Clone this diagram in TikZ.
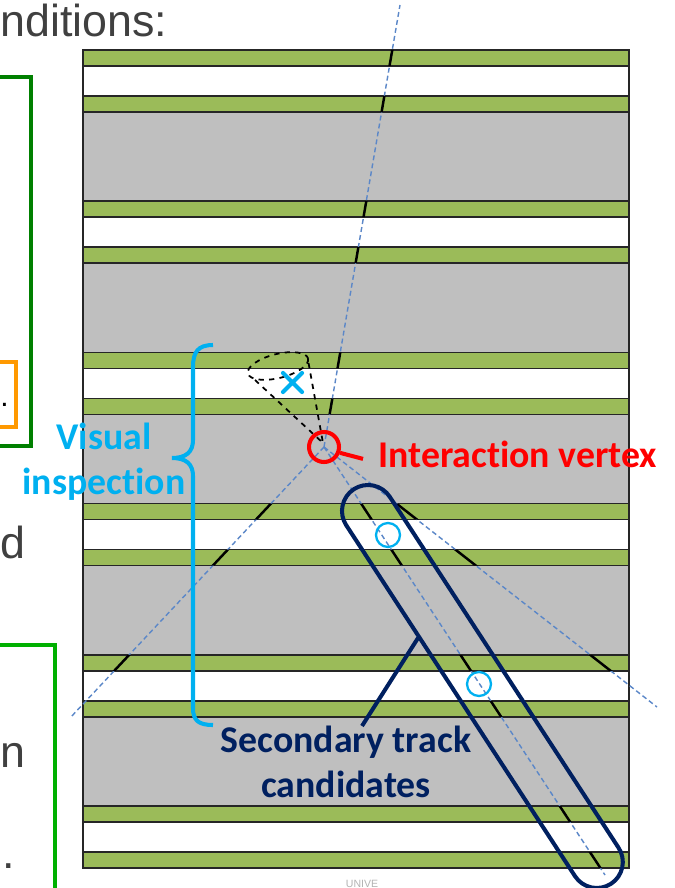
\documentclass[tikz,border=0pt]{standalone}
\usepackage{fontspec}
\setmainfont{Liberation Sans}
\newfontfamily\labelfont[Ligatures=NoCommon]{Carlito}
\usetikzlibrary{calc}

\begin{document}
\begin{tikzpicture}[x=0.02cm, y=-0.02cm,
  band/.style={draw=black!85, line width=0.8pt},
  track/.style={trackblue, line width=0.8pt, dash pattern=on 2.8pt off 1.8pt},
  hit/.style={black, line width=1.4pt},
  hitring/.style={circle, draw=skyblue, line width=1.3pt, minimum size=0.48cm, inner sep=0pt},
  slidetext/.style={font=\fontsize{25.5}{30}\selectfont, text=slidegray, inner sep=0pt},
  callout/.style={font=\labelfont\bfseries\fontsize{21.5}{25.6}\selectfont, inner sep=0pt, align=center}]
  % Define colors
  \definecolor{layergreen}{RGB}{155,187,89}
  \definecolor{layergray}{RGB}{191,191,191}
  \definecolor{trackblue}{RGB}{91,135,200}
  \definecolor{navy}{RGB}{0,32,96}
  \definecolor{skyblue}{RGB}{0,176,240}
  \definecolor{boxgreen}{RGB}{0,128,0}
  \definecolor{boxlime}{RGB}{0,176,0}
  \definecolor{boxorange}{RGB}{255,153,0}
  \definecolor{slidegray}{RGB}{64,64,64}

  \useasboundingbox (0,0) rectangle (675,888);

  % Slide text and boxes on the left
  \node[slidetext, anchor=base west] (cond) at (0,37) {nditions:};
  \draw[boxgreen, line width=2.8pt] (-20,77) rectangle (31,446);
  \draw[boxorange, line width=2.3pt] (-20,362) rectangle (16,427);
  \node[font=\fontsize{17}{20}\selectfont, anchor=base west, inner sep=0pt] (stop) at (0,406) {.};
  \node[slidetext, anchor=base west] (fragd) at (0,558) {d};
  \draw[boxlime, line width=2.8pt] (-20,645) rectangle (55,900);
  \node[slidetext, anchor=base west] (fragn) at (0,767) {n};
  \node[slidetext, anchor=base west] (fragt) at (2,868) {.};

  % Detector layers
  \foreach \i in {0,...,5} {
    \pgfmathsetmacro{\ytop}{50+151.2*\i}
    \draw[band, fill=layergreen] (83,\ytop) rectangle (629,{\ytop+16});
    \draw[band, fill=white] (83,{\ytop+16}) rectangle (629,{\ytop+46});
    \draw[band, fill=layergreen] (83,{\ytop+46}) rectangle (629,{\ytop+62});
    \ifnum\i<5
      \draw[band, fill=layergray] (83,{\ytop+62}) rectangle (629,{\ytop+151.2});
    \fi
  }

  % Tracks from the vertex
  \coordinate (vertex) at (324,447);
  \coordinate (upEnd) at (400,5);
  \coordinate (leftEnd) at (70,718);
  \coordinate (rightEnd) at (657,707);
  \coordinate (candEnd) at (605,875);
  \foreach \e in {upEnd,leftEnd,rightEnd,candEnd}
    \draw[track] (vertex) -- (\e);

  % Hits in the green layers
  \begin{scope}
    \clip \foreach \i in {0,...,5} {
      (83,{50+151.2*\i}) rectangle (629,{66+151.2*\i})
      (83,{96+151.2*\i}) rectangle (629,{112+151.2*\i})
    };
    \draw[hit] (vertex) -- (upEnd);
    \draw[hit] (vertex) -- ($(vertex)!0.89!(leftEnd)$);
    \draw[hit] (vertex) -- (rightEnd);
    \draw[hit] (vertex) -- (candEnd);
  \end{scope}

  % Rings on the candidate track
  \node[hitring] (ringA) at (388,535) {};
  \node[hitring] (ringB) at (479,684) {};

  % Envelope around the candidate track
  \begin{scope}[shift={(368,511)}, rotate=-56.9]
    \draw[navy, line width=2.3pt, rounded corners=0.52cm] (-26,-26) rectangle (445,26);
  \end{scope}

  % Dashed search cone
  \draw[black, dashed, line width=1pt, rotate around={14:(278,366)}] (278,366) ellipse[x radius=31, y radius=12];
  \draw[black, dashed, line width=1pt] (255,380) -- (323,443) -- (308,360);

  % Cross mark
  \draw[skyblue, line width=2.4pt, line cap=round] (283,373) -- (302,392) (283,392) -- (302,373);

  % Vertex ring and label
  \node[circle, draw=red, line width=2.3pt, minimum size=0.6cm, inner sep=0pt] (vtxring) at (vertex) {};
  \node[callout, text=red, anchor=base west] (vtxlabel) at (378,467) {Interaction vertex};
  \draw[red, line width=2.3pt] (vtxring.-20) -- ($(vtxlabel.west)+(-15,5)$);

  % Candidate label and pointer
  \node[callout, text=navy, anchor=north] (candlabel) at (346,726) {Secondary track\\candidates};
  \coordinate (candTip) at (418,638);
  \draw[navy, line width=2.3pt] ($(candlabel.north)+(16,0)$) -- (candTip);

  % Brace for the inspected range
  \draw[skyblue, line width=2.3pt] (213,345) .. controls (198,345) and (193,352) .. (193,367)
    -- (193,440) .. controls (193,452) and (186,458) .. (172,458)
    .. controls (186,458) and (193,464) .. (193,476)
    -- (193,708) .. controls (193,720) and (198,725) .. (213,725);
  \node[callout, text=skyblue, anchor=north] (vislabel) at (104,423) {Visual\\inspection};

  % Seal fragment
  \node[text=black!30, font=\fontsize{6}{7}\selectfont, inner sep=0pt] (seal) at (362,884) {UNIVE};
\end{tikzpicture}
\end{document}
